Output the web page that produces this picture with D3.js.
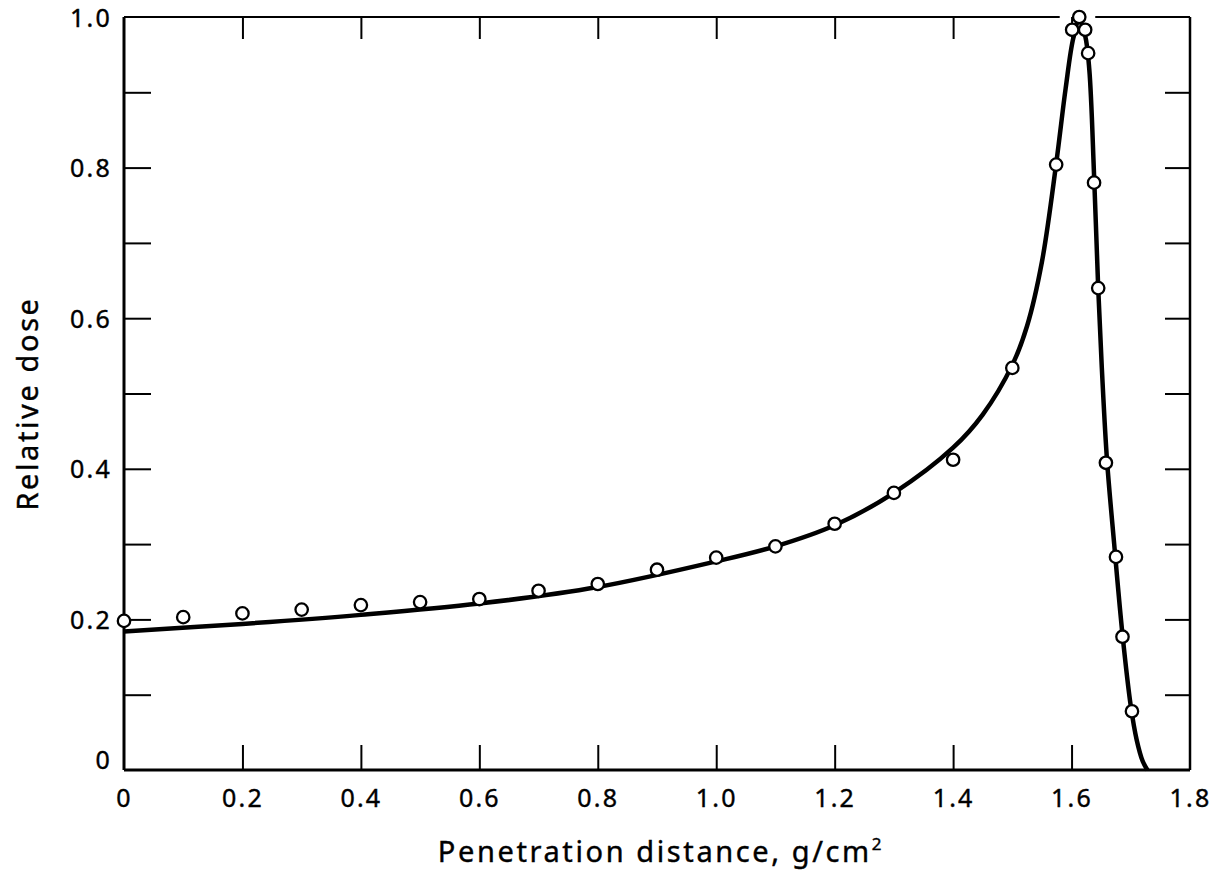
<!DOCTYPE html>
<meta charset="utf-8">
<style>
    body { margin: 0; background: #fff; }
    text { fill: #000; stroke: #000; stroke-width: 0.4px; font-family: "Noto Sans", sans-serif; }
    .tick line { stroke: #000; stroke-width: 2px; }
    .lab text { font-size: 25px; letter-spacing: 2.2px; }
    .title { font-size: 29px; letter-spacing: 2.6px; }
</style>
<body>
<script src="https://cdnjs.cloudflare.com/ajax/libs/d3/7.8.5/d3.min.js"></script>
<script>
    // measured points (circles)
    var pointX = [0, 0.1, 0.2, 0.3, 0.4, 0.5, 0.6, 0.7, 0.8, 0.9, 1.0, 1.1, 1.2, 1.3, 1.4, 1.5,
                  1.574, 1.601, 1.613, 1.623, 1.628, 1.638, 1.645, 1.658, 1.675, 1.686, 1.702];
    var pointY = [0.198, 0.203, 0.208, 0.213, 0.219, 0.223, 0.227, 0.238, 0.247, 0.266, 0.282, 0.297, 0.327, 0.368, 0.412, 0.534,
                  0.804, 0.983, 1.0, 0.983, 0.952, 0.78, 0.64, 0.408, 0.283, 0.177, 0.078];

    // fitted curve
    var curveX = [0, 0.2, 0.4, 0.6, 0.8, 1.0, 1.1, 1.2, 1.3, 1.4, 1.45, 1.5, 1.525, 1.55, 1.574,
                  1.59, 1.603, 1.613, 1.623, 1.63, 1.638, 1.645, 1.652, 1.66, 1.672, 1.686, 1.70, 1.71, 1.72, 1.728];
    var curveY = [0.184, 0.194, 0.206, 0.221, 0.243, 0.277, 0.297, 0.325, 0.368, 0.428, 0.472, 0.538, 0.59, 0.675, 0.805,
                  0.905, 0.972, 0.995, 0.975, 0.93, 0.79, 0.64, 0.52, 0.41, 0.30, 0.18, 0.085, 0.04, 0.012, 0];

    var xTickVals = [0.2, 0.4, 0.6, 0.8, 1.0, 1.2, 1.4, 1.6];
    var xLabelVals = [0, 0.2, 0.4, 0.6, 0.8, 1.0, 1.2, 1.4, 1.6, 1.8];
    var yTickVals = [0.1, 0.2, 0.3, 0.4, 0.5, 0.6, 0.7, 0.8, 0.9];
    var yLabelVals = [0, 0.2, 0.4, 0.6, 0.8, 1.0];

    var W = 1211, H = 877;
    var margin = {top: 17, right: 21, bottom: 107, left: 124};
    var x0 = margin.left, x1 = W - margin.right,
        y0 = H - margin.bottom, y1 = margin.top;

    var x = d3.scaleLinear().domain([0, 1.8]).range([x0, x1]);
    var y = d3.scaleLinear().domain([0, 1]).range([y0, y1]);
    var fmt = function(d) { return d === 0 ? "0" : d3.format(".1f")(d); };

    var svg = d3.select("body").append("svg")
        .attr("width", W)
        .attr("height", H);

    // inward ticks
    function ticks(axis, tx, ty) {
        var g = svg.append("g").attr("transform", "translate(" + tx + "," + ty + ")").call(axis);
        g.select(".domain").remove();
        g.selectAll("text").remove();
        return g;
    }
    ticks(d3.axisTop(x).tickValues(xTickVals).tickSize(25), 0, y0);
    ticks(d3.axisBottom(x).tickValues(xTickVals).tickSize(22), 0, y1);
    ticks(d3.axisRight(y).tickValues(yTickVals).tickSize(27), x0, 0);
    ticks(d3.axisLeft(y).tickValues(yTickVals).tickSize(25), x1, 0);

    // frame
    svg.append("line").attr("x1", x0).attr("x2", x0).attr("y1", y1).attr("y2", y0)
        .attr("stroke", "#000").attr("stroke-width", 3);
    svg.append("line").attr("x1", x1).attr("x2", x1).attr("y1", y1).attr("y2", y0)
        .attr("stroke", "#000").attr("stroke-width", 2.5);
    svg.append("line").attr("x1", x0).attr("x2", x1).attr("y1", y0).attr("y2", y0)
        .attr("stroke", "#000").attr("stroke-width", 2.8);
    // top line, broken round the peak
    svg.append("line").attr("x1", x0).attr("x2", x(1.58)).attr("y1", y1).attr("y2", y1)
        .attr("stroke", "#000").attr("stroke-width", 2.2);
    svg.append("line").attr("x1", x(1.64)).attr("x2", x1).attr("y1", y1).attr("y2", y1)
        .attr("stroke", "#000").attr("stroke-width", 2.2);

    // tick labels
    var xl = svg.append("g").attr("class", "lab")
        .attr("transform", "translate(0," + y0 + ")")
        .call(d3.axisBottom(x).tickValues(xLabelVals).tickSize(0).tickPadding(19).tickFormat(fmt));
    xl.select(".domain").remove();
    xl.selectAll("text").attr("font-size", null).attr("font-family", null);

    var yl = svg.append("g").attr("class", "lab")
        .attr("transform", "translate(" + x0 + ",0)")
        .call(d3.axisLeft(y).tickValues(yLabelVals).tickSize(0).tickPadding(12).tickFormat(fmt));
    yl.select(".domain").remove();
    yl.selectAll("text").attr("font-size", null).attr("font-family", null)
        .attr("dy", function(d) { return d === 0 ? "-0.05em" : "0.36em"; });

    // curve
    var pts = curveX.map(function(v, i) { return [v, curveY[i]]; });
    svg.append("path")
        .datum(pts)
        .attr("fill", "none")
        .attr("stroke", "#000")
        .attr("stroke-width", 4.5)
        .attr("stroke-linejoin", "round")
        .attr("d", d3.line().x(function(d) { return x(d[0]); }).y(function(d) { return y(d[1]); })
            .curve(d3.curveCatmullRom.alpha(0.5)));

    // circles
    svg.append("g").selectAll("circle")
        .data(pointX.map(function(v, i) { return [v, pointY[i]]; }))
        .enter().append("circle")
        .attr("cx", function(d) { return x(d[0]); })
        .attr("cy", function(d) { return y(d[1]); })
        .attr("r", 6.2)
        .attr("fill", "#fff")
        .attr("stroke", "#000")
        .attr("stroke-width", 2.3);

    // axis titles
    var xt = svg.append("text").attr("class", "title")
        .attr("x", (x0 + x1) / 2 + 4)
        .attr("y", 862)
        .attr("text-anchor", "middle");
    xt.append("tspan").text("Penetration distance, g/cm");
    xt.append("tspan").attr("dy", -12).attr("font-size", 17).text("2");

    svg.append("text").attr("class", "title")
        .attr("transform", "translate(38," + ((y0 + y1) / 2 + 10) + ") rotate(-90)")
        .attr("text-anchor", "middle")
        .text("Relative dose");
</script>
</body>
